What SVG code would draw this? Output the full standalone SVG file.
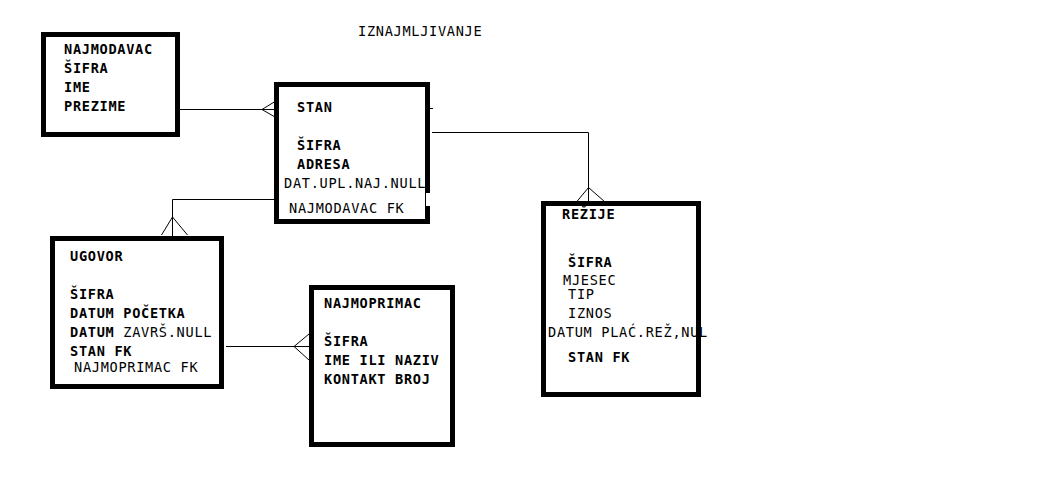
<svg xmlns="http://www.w3.org/2000/svg" width="1046" height="481" viewBox="0 0 1046 481">
<style>
.box{fill:#fff;stroke:#000;stroke-width:5}
.ln{fill:none;stroke:#000;stroke-width:1}
text{font-family:"DejaVu Sans Mono","Liberation Mono",monospace;font-size:13.6px;letter-spacing:0.7px;fill:#000}
.b{font-weight:bold}
</style>
<rect width="1046" height="481" fill="#fff"/>
<text x="358" y="36">IZNAJMLJIVANJE</text>
<g id="connectors">
  <path class="ln" d="M180,109.5H276 M262,109.5L275,101.5 M262,109.5L275,117"/>
  <path class="ln" d="M276,199.5H172.5V237 M172.5,217L161.5,235 M172.5,217L187.5,235"/>
  <path class="ln" d="M226,346.5H310 M294,346.5L309,334 M294,346.5L309,360"/>
  <path class="ln" d="M432,132.5H588.5V202 M588.5,187.5L576.5,202 M588.5,187.5L605,202"/>
  <path class="ln" d="M430,108.5H433"/>
</g>
<g id="najmodavac">
  <rect class="box" x="43.5" y="34.5" width="134" height="100"/>
  <text class="b" x="64" y="54">NAJMODAVAC</text>
  <text class="b" x="64" y="73">ŠIFRA</text>
  <text class="b" x="64" y="92">IME</text>
  <text class="b" x="64" y="111">PREZIME</text>
</g>
<g id="stan">
  <rect class="box" x="276.5" y="84.5" width="151" height="137"/>
  <rect x="426" y="193" width="5" height="13" fill="#fff"/>
  <text class="b" x="297" y="112">STAN</text>
  <text class="b" x="297" y="150">ŠIFRA</text>
  <text class="b" x="297" y="169">ADRESA</text>
  <text x="284" y="188">DAT.UPL.NAJ.NULL</text>
  <text x="289" y="213">NAJMODAVAC FK</text>
</g>
<g id="ugovor">
  <rect class="box" x="52.5" y="238.5" width="169" height="148"/>
  <text class="b" x="70" y="261">UGOVOR</text>
  <text class="b" x="70" y="299">ŠIFRA</text>
  <text class="b" x="70" y="318">DATUM POČETKA</text>
  <text x="70" y="337"><tspan class="b">DATUM</tspan> ZAVRŠ.NULL</text>
  <text class="b" x="70" y="356">STAN FK</text>
  <text x="74" y="372">NAJMOPRIMAC FK</text>
</g>
<g id="najmoprimac">
  <rect class="box" x="311.5" y="287.5" width="141" height="157"/>
  <text class="b" x="324" y="308">NAJMOPRIMAC</text>
  <text class="b" x="324" y="346">ŠIFRA</text>
  <text class="b" x="324" y="365">IME ILI NAZIV</text>
  <text class="b" x="324" y="384">KONTAKT BROJ</text>
</g>
<g id="rezije">
  <rect class="box" x="543.5" y="203.5" width="155" height="191"/>
  <text class="b" x="562" y="219">REŽIJE</text>
  <text class="b" x="568" y="267">ŠIFRA</text>
  <text x="563" y="285">MJESEC</text>
  <text x="568" y="299">TIP</text>
  <text x="568" y="318">IZNOS</text>
  <text x="548" y="337">DATUM PLAĆ.REŽ,NUL</text>
  <text class="b" x="568" y="362">STAN FK</text>
</g>
</svg>
